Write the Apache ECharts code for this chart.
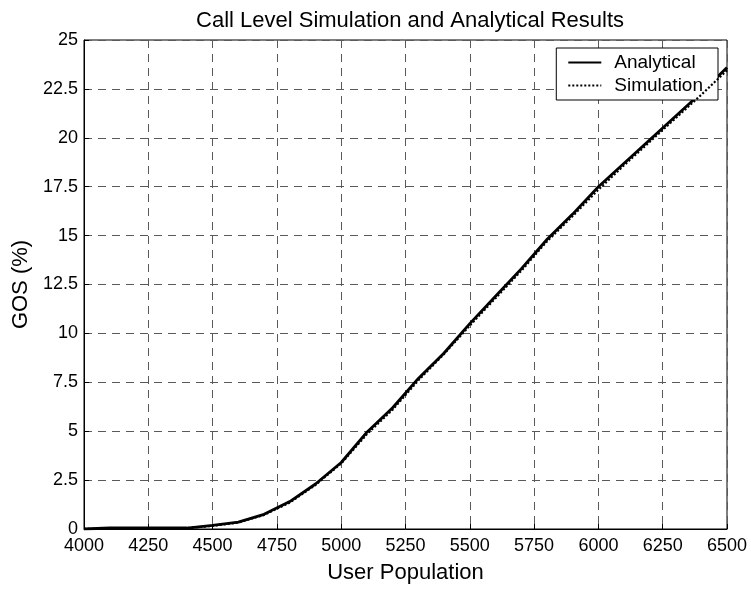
<!DOCTYPE html>
<html>
<head>
<meta charset="utf-8">
<script src="https://cdn.jsdelivr.net/npm/echarts@6/dist/echarts.min.js"></script>
<style>
  html, body { margin: 0; padding: 0; background: #fff; }
  #chart { width: 751px; height: 589px; }
</style>
</head>
<body>
<div id="chart"></div>
<script>
// user population (x) for both curves
const population = [4000, 4100, 4200, 4300, 4400, 4500, 4600, 4700, 4800, 4900,
  5000, 5100, 5200, 5300, 5400, 5500, 5600, 5700, 5800, 5900,
  6000, 6100, 6200, 6300, 6400, 6500];

// GOS (%)
const analytical = [0, 0.05, 0.05, 0.05, 0.05, 0.18, 0.35, 0.75, 1.4, 2.3,
  3.4, 4.95, 6.2, 7.7, 9.0, 10.5, 11.9, 13.3, 14.8, 16.1,
  17.5, 18.7, 19.9, 21.1, 22.3, 23.6];
const simulation = [0, 0.02, 0.03, 0.04, 0.05, 0.16, 0.33, 0.72, 1.35, 2.25,
  3.35, 4.85, 6.1, 7.6, 8.95, 10.4, 11.8, 13.2, 14.7, 16.0,
  17.35, 18.6, 19.8, 21.0, 22.2, 23.45];

const xTicks = [4000, 6500, 250];
const yTicks = [0, 25, 2.5];

const font = "'Liberation Sans', Arial, sans-serif";
const chart = echarts.init(document.getElementById("chart"));

const pairs = (ys) => population.map((x, i) => [x, ys[i]]);

const gridLine = {
  show: true,
  lineStyle: { color: "#5a5a5a", width: 1, type: [8, 6] },
};

chart.setOption({
  animation: false,
  backgroundColor: "#fff",
  title: {
    text: "Call Level Simulation and Analytical Results",
    left: 405,
    textAlign: "center",
    top: 5,
    textStyle: { fontFamily: font, fontSize: 22, fontWeight: "normal", color: "#000" },
  },
  legend: {
    orient: "vertical",
    right: 33,
    top: 48,
    backgroundColor: "#fff",
    borderColor: "#000",
    borderWidth: 1,
    borderRadius: 0,
    padding: [5, 15, 5, 11],
    itemWidth: 33,
    itemHeight: 14,
    itemGap: 4,
    itemStyle: { opacity: 0 },
    textStyle: { fontFamily: font, fontSize: 19, color: "#000", padding: [0, 0, 0, 8] },
    data: ["Analytical", "Simulation"],
  },
  grid: {
    left: 84,
    right: 24,
    top: 40,
    bottom: 58,
    show: true,
    borderColor: "#000",
    borderWidth: 1,
    backgroundColor: "#fff",
  },
  xAxis: {
    type: "value",
    min: xTicks[0],
    max: xTicks[1],
    interval: xTicks[2],
    name: "User Population",
    nameLocation: "middle",
    nameGap: 33,
    nameTextStyle: { fontFamily: font, fontSize: 22, color: "#000" },
    axisLine: { show: true, lineStyle: { color: "#000", width: 1 } },
    axisTick: { show: true, inside: true, length: 5, lineStyle: { color: "#000" } },
    axisLabel: { fontFamily: font, fontSize: 18, color: "#000", margin: 8, formatter: (v) => String(v) },
    splitLine: gridLine,
  },
  yAxis: {
    type: "value",
    min: yTicks[0],
    max: yTicks[1],
    interval: yTicks[2],
    name: "GOS (%)",
    nameLocation: "middle",
    nameGap: 51,
    nameTextStyle: { fontFamily: font, fontSize: 22, color: "#000" },
    axisLine: { show: true, lineStyle: { color: "#000", width: 1 } },
    axisTick: { show: true, inside: true, length: 5, lineStyle: { color: "#000" } },
    axisLabel: { fontFamily: font, fontSize: 18, color: "#000", margin: 6 },
    splitLine: gridLine,
  },
  series: [
    {
      name: "Analytical",
      type: "line",
      data: pairs(analytical),
      symbol: "none",
      lineStyle: { color: "#000", width: 2.8, type: "solid" },
      itemStyle: { color: "#000" },
      z: 3,
    },
    {
      name: "Simulation",
      type: "line",
      data: pairs(simulation),
      symbol: "none",
      lineStyle: { color: "#000", width: 2.2, type: [2, 2] },
      itemStyle: { color: "#000" },
      z: 4,
    },
  ],
});
</script>
</body>
</html>
